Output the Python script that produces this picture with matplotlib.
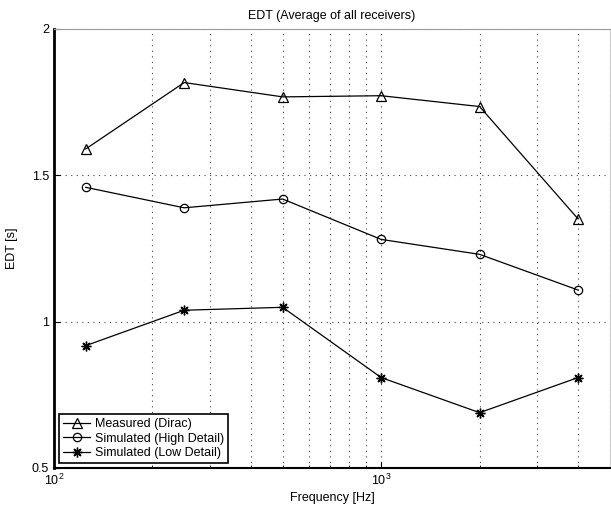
import matplotlib
matplotlib.use("Agg")
import matplotlib.pyplot as plt
from matplotlib.ticker import LogLocator, NullFormatter, FixedLocator

plt.rcParams['font.family'] = ['Liberation Sans', 'DejaVu Sans']

freqs = [125, 250, 500, 1000, 2000, 4000]
measured = [1.59, 1.817, 1.768, 1.772, 1.735, 1.351]
sim_high = [1.459, 1.389, 1.419, 1.281, 1.230, 1.108]
sim_low = [0.918, 1.039, 1.049, 0.809, 0.689, 0.809]
labels = ["Measured (Dirac)", "Simulated (High Detail)", "Simulated (Low Detail)"]
yticks = [0.5, 1, 1.5, 2]

fig = plt.figure(figsize=(6.11, 5.05), dpi=100)
ax = fig.add_axes([0.0884, 0.0733, 0.9096, 0.8693])

ax.plot(freqs, measured, color='black', lw=0.9, marker='^', ms=7, mfc='none', mec='black', mew=0.9, label=labels[0])
ax.plot(freqs, sim_high, color='black', lw=0.9, marker='o', ms=6, mfc='none', mec='black', mew=0.9, label=labels[1])
ax.plot(freqs, sim_low, color='black', lw=0.9, marker=(8, 2, 0), ms=7, mfc='black', mec='black', mew=1.0, label=labels[2])

ax.set_xscale('log')
ax.set_xlim(100, 5000)
ax.set_ylim(0.5, 2)
ax.yaxis.set_major_locator(FixedLocator(yticks))
ax.set_yticklabels(['0.5', '1', '1.5', '2'])
ax.xaxis.set_major_locator(LogLocator(base=10, numticks=10))
ax.xaxis.set_minor_locator(LogLocator(base=10, subs=range(2, 10), numticks=20))
ax.xaxis.set_minor_formatter(NullFormatter())

ax.grid(True, which='major', axis='both', linestyle=(0, (1, 4)), color='#444444', lw=0.8)
ax.grid(True, which='minor', axis='x', linestyle=(0, (1, 4)), color='#444444', lw=0.8)
ax.tick_params(which='both', direction='in', labelsize=9, colors='black')
ax.tick_params(which='major', length=4)
ax.tick_params(which='minor', length=2)

ax.spines['left'].set_linewidth(2)
ax.spines['bottom'].set_linewidth(1.5)
ax.spines['top'].set_color('#999999')
ax.spines['top'].set_linewidth(0.8)
ax.spines['right'].set_color('#cccccc')
ax.spines['right'].set_linewidth(0.8)

ax.set_title('EDT (Average of all receivers)', fontsize=9, pad=7)
ax.set_xlabel('Frequency [Hz]', fontsize=9, labelpad=3)
ax.set_ylabel('EDT [s]', fontsize=9, labelpad=10)

leg = ax.legend(loc='lower left', fontsize=9, fancybox=False, framealpha=1,
                edgecolor='black', borderpad=0.3, labelspacing=0.2, handlelength=2.2,
                handletextpad=0.4, borderaxespad=0.4)
leg.get_frame().set_linewidth(1.2)

fig.savefig('out.png', dpi=100)
